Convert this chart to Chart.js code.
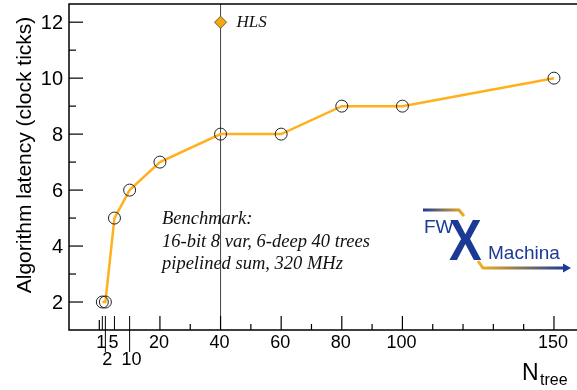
<!DOCTYPE html>
<html>
<head>
<meta charset="utf-8">
<script src="https://cdn.jsdelivr.net/npm/chart.js@4"></script>
<style>
  html, body { margin: 0; padding: 0; background: #fff; }
  #wrap { position: relative; width: 577px; height: 390px; }
</style>
</head>
<body>
<div id="wrap"><canvas id="latency" width="577" height="390"></canvas></div>
<script>
// Latency vs number of trees, ROOT-style frame drawn by a small plugin.
const nTree = [1, 2, 5, 10, 20, 40, 60, 80, 100, 150];
const latency = [2, 2, 5, 6, 7, 8, 8, 9, 9, 10];
const hlsTrees = [40];
const hlsLatency = [12];

const xMajorTicks = [1, 2, 5, 10, 20, 40, 60, 80, 100, 150];
const xTickLabels = ['1', '2', '5', '10', '20', '40', '60', '80', '100', '150'];
const xLabelRow = [0, 1, 0, 1, 0, 0, 0, 0, 0, 0];
const xMinorTicks = [0, 30, 50, 70, 90, 110, 120, 130, 140];
const yMajorTicks = [2, 4, 6, 8, 10, 12];
const yTickLabels = ['2', '4', '6', '8', '10', '12'];
const yMinorTicks = [3, 5, 7, 9, 11];

const ORANGE = '#ffb11b';
const BLUE = '#1b3a96';
const SANS = '"Liberation Sans", Arial, sans-serif';
const SERIF = '"Liberation Serif", "Times New Roman", serif';

const rootFrame = {
    id: 'rootFrame',
    afterDraw(chart) {
        const { ctx, chartArea: a, scales: { x, y } } = chart;
        ctx.save();
        ctx.strokeStyle = '#000';
        ctx.fillStyle = '#000';

        // frame: top, left, bottom
        ctx.lineWidth = 1.5;
        ctx.beginPath();
        ctx.moveTo(a.right, a.top); ctx.lineTo(a.left, a.top);
        ctx.lineTo(a.left, a.bottom); ctx.lineTo(a.right, a.bottom);
        ctx.stroke();

        // y ticks + labels
        ctx.lineWidth = 1.2;
        ctx.font = `20px ${SANS}`;
        ctx.textAlign = 'right';
        ctx.textBaseline = 'middle';
        yMajorTicks.forEach((v, i) => {
            const py = y.getPixelForValue(v);
            ctx.beginPath(); ctx.moveTo(a.left, py); ctx.lineTo(a.left + 14, py); ctx.stroke();
            ctx.fillText(yTickLabels[i], a.left - 6, py + 1);
        });
        yMinorTicks.forEach(v => {
            const py = y.getPixelForValue(v);
            ctx.beginPath(); ctx.moveTo(a.left, py); ctx.lineTo(a.left + 7, py); ctx.stroke();
        });

        // x ticks + labels (2 and 10 pushed to a second row)
        ctx.font = `18px ${SANS}`;
        ctx.textAlign = 'center';
        ctx.textBaseline = 'middle';
        xMajorTicks.forEach((v, i) => {
            const px = x.getPixelForValue(v);
            const extra = xLabelRow[i] ? 22 : 0;
            ctx.lineWidth = v < 15 ? 1 : 1.2;
            ctx.beginPath(); ctx.moveTo(px, a.bottom - 14); ctx.lineTo(px, a.bottom + extra); ctx.stroke();
            const ly = xLabelRow[i] ? a.bottom + 30 : a.bottom + 13;
            ctx.fillText(xTickLabels[i], px + (xLabelRow[i] ? 2 : -1), ly);
        });
        ctx.lineWidth = 1.2;
        xMinorTicks.forEach(v => {
            const px = x.getPixelForValue(v);
            const len = v === 0 ? 10 : 6;
            ctx.beginPath(); ctx.moveTo(px, a.bottom - len); ctx.lineTo(px, a.bottom); ctx.stroke();
        });

        // axis titles
        ctx.textAlign = 'left';
        ctx.textBaseline = 'alphabetic';
        ctx.font = `23px ${SANS}`;
        ctx.fillText('N', 522, 380);
        ctx.font = `16px ${SANS}`;
        ctx.fillText('tree', 540, 385);

        ctx.save();
        ctx.translate(31, 155);
        ctx.rotate(-Math.PI / 2);
        ctx.textAlign = 'center';
        ctx.font = `21px ${SANS}`;
        ctx.fillText('Algorithm latency (clock ticks)', 0, 0);
        ctx.restore();

        // annotations
        ctx.font = `italic 17px ${SERIF}`;
        ctx.fillStyle = '#111';
        ctx.fillText('HLS', x.getPixelForValue(hlsTrees[0]) + 16, y.getPixelForValue(hlsLatency[0]) + 5);
        ctx.font = `italic 18.5px ${SERIF}`;
        ctx.fillText('Benchmark:', 162, 224);
        ctx.fillText('16-bit 8 var, 6-deep 40 trees', 162, 246.5);
        ctx.fillText('pipelined sum, 320 MHz', 162, 269);

        // FWXMachina logo
        let g = ctx.createLinearGradient(423, 0, 465, 0);
        g.addColorStop(0, BLUE); g.addColorStop(1, '#f5b21b');
        ctx.strokeStyle = g; ctx.lineWidth = 3;
        ctx.beginPath(); ctx.moveTo(423, 210); ctx.lineTo(459, 210); ctx.lineTo(464, 216); ctx.stroke();

        g = ctx.createLinearGradient(478, 0, 565, 0);
        g.addColorStop(0, '#f5b21b'); g.addColorStop(1, BLUE);
        ctx.strokeStyle = g;
        ctx.beginPath(); ctx.moveTo(478, 261); ctx.lineTo(483, 268); ctx.lineTo(564, 268); ctx.stroke();
        ctx.fillStyle = BLUE;
        ctx.beginPath(); ctx.moveTo(563, 263.5); ctx.lineTo(571, 268); ctx.lineTo(563, 272.5); ctx.closePath(); ctx.fill();

        ctx.font = `19px ${SANS}`;
        ctx.fillText('FW', 424, 233);
        ctx.fillText('Machina', 488, 259);
        ctx.save();
        ctx.translate(449, 260);
        ctx.scale(0.86, 1);
        ctx.font = `bold 57px ${SANS}`;
        ctx.fillText('X', 0, 0);
        ctx.restore();

        ctx.restore();
    }
};

new Chart(document.getElementById('latency'), {
    type: 'scatter',
    data: {
        datasets: [
            {
                // HLS reference line at 40 trees
                data: [{ x: hlsTrees[0], y: 1 }, { x: hlsTrees[0], y: 12.65 }],
                showLine: true,
                borderColor: '#444',
                borderWidth: 1,
                pointRadius: 0,
                order: 3,
            },
            {
                data: nTree.map((n, i) => ({ x: n, y: latency[i] })),
                showLine: true,
                borderColor: ORANGE,
                borderWidth: 2.5,
                pointRadius: 6,
                pointBorderColor: '#222',
                pointBorderWidth: 1,
                pointBackgroundColor: 'rgba(0,0,0,0)',
                order: 2,
            },
            {
                data: hlsTrees.map((n, i) => ({ x: n, y: hlsLatency[i] })),
                pointStyle: 'rectRot',
                pointRadius: 6,
                backgroundColor: '#f5a814',
                borderColor: '#6b5a2a',
                borderWidth: 1,
                order: 1,
            },
        ]
    },
    options: {
        responsive: false,
        animation: false,
        clip: false,
        layout: { autoPadding: false, padding: { left: 69, top: 4, right: 0, bottom: 60 } },
        plugins: { legend: { display: false }, tooltip: { enabled: false } },
        scales: {
            x: { type: 'linear', min: -10, max: 157.6, display: false },
            y: { type: 'linear', min: 1, max: 12.65, display: false },
        }
    },
    plugins: [rootFrame]
});
</script>
</body>
</html>
